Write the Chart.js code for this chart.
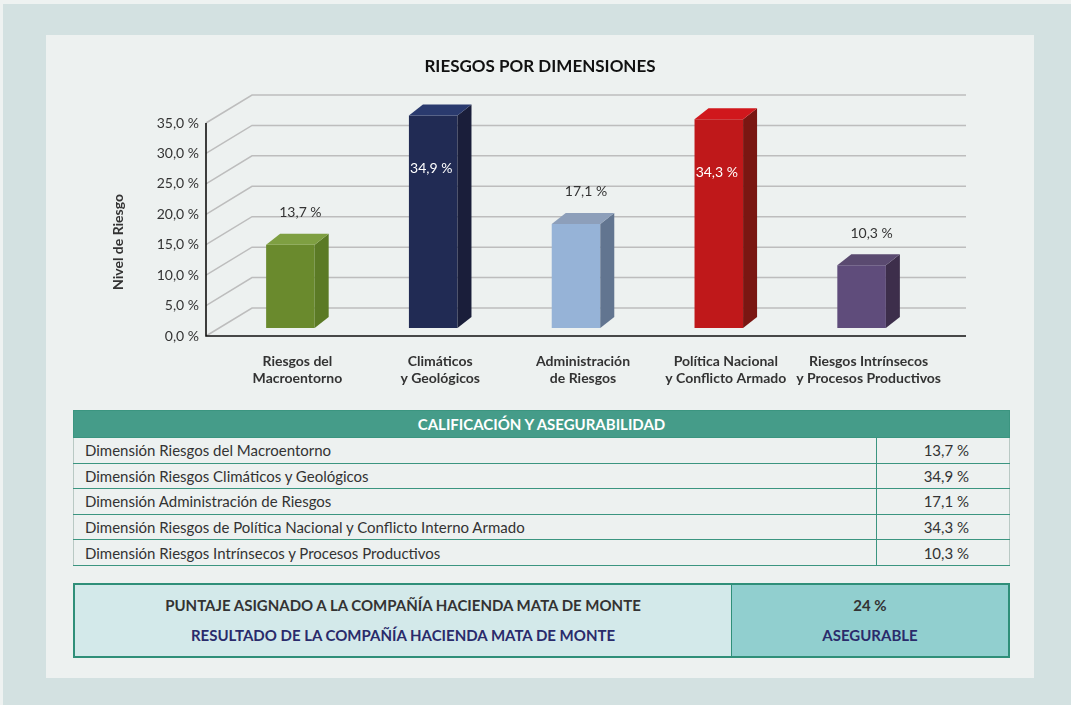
<!DOCTYPE html>
<html>
<head>
<meta charset="utf-8">
<script src="https://cdn.jsdelivr.net/npm/chart.js@4.4.1/dist/chart.umd.min.js"></script>
<style>
  html, body { margin: 0; padding: 0; }
  body { width: 1071px; height: 705px; background: #eef2f1; position: relative; overflow: hidden; font-family: Lato, "Open Sans", sans-serif; }
  #frame { position: absolute; left: 3px; top: 4px; width: 1068px; height: 701px; background: #d3e1e1; }
  #panel { position: absolute; left: 46px; top: 35px; width: 988px; height: 643px; background: #edf1f0; }
  #chartWrap { position: absolute; left: 0; top: 0; width: 988px; height: 365px; }
  #tbl { position: absolute; left: 27px; top: 375px; width: 937px; border-collapse: collapse; font-size: 15px; color: #333; }
  #tbl th { background: #459c89; color: #fff; font-weight: bold; height: 26px; padding: 0; border: 1.5px solid #3b9580; font-size: 15px; }
  #tbl td { height: 24.6px; padding: 0 11px; border-top: 1.5px solid #3b9580; border-bottom: 1.5px solid #3b9580; }
  #tbl td.lbl { border-left: 1px solid #b9c9c4; border-right: 1.5px solid #3b9580; }
  #tbl td.val { text-align: right; padding-right: 40px; width: 81px; border-right: 1px solid #b9c9c4; }
  #res { position: absolute; left: 27px; top: 548px; width: 933px; height: 71px; border: 2px solid #2f8f79; display: flex; font-weight: bold; font-size: 15px; }
  #res .l { width: 656px; background: #d3e9ea; border-right: 1.5px solid #2f8f79; text-align: center; }
  #res .r { flex: 1; background: #91cfcf; text-align: center; }
  #res .a { color: #333; margin-top: 11px; height: 19px; }
  #res .b { color: #2a2b6b; margin-top: 11px; height: 19px; }
</style>
</head>
<body>
<div id="frame"></div>
<div id="panel">
  <div id="chartWrap"><canvas id="c" width="988" height="365"></canvas></div>
  <table id="tbl">
    <thead><tr><th colspan="2">CALIFICACIÓN Y ASEGURABILIDAD</th></tr></thead>
    <tbody id="tbody"></tbody>
  </table>
  <div id="res">
    <div class="l"><div class="a" id="resA"></div><div class="b" id="resB"></div></div>
    <div class="r"><div class="a" id="resC"></div><div class="b" id="resD"></div></div>
  </div>
</div>
<script>
// ---- data ----
const categories = [
  ["Riesgos del", "Macroentorno"],
  ["Climáticos", "y Geológicos"],
  ["Administración", "de Riesgos"],
  ["Política Nacional", "y Conflicto Armado"],
  ["Riesgos Intrínsecos", "y Procesos Productivos"]
];
const values = [13.7, 34.9, 17.1, 34.3, 10.3];
const tableLabels = [
  "Dimensión Riesgos del Macroentorno",
  "Dimensión Riesgos Climáticos y Geológicos",
  "Dimensión Administración de Riesgos",
  "Dimensión Riesgos de Política Nacional y Conflicto Interno Armado",
  "Dimensión Riesgos Intrínsecos y Procesos Productivos"
];
const yTicks = [0, 5, 10, 15, 20, 25, 30, 35];
const frontColors = ["#6a8a2d", "#212b54", "#96b3d7", "#bf181a", "#5f4c7b"];
const sideColors  = ["#5b7a25", "#1a1e3a", "#627590", "#7a1612", "#3d2e4b"];
const topColors   = ["#7e9f41", "#2a3a6e", "#8d9fba", "#d0171c", "#5a4a70"];
const insideLabel = [false, true, false, true, false];
const chartTitle = "RIESGOS POR DIMENSIONES";
const yTitle = "Nivel de Riesgo";
const scoreLabel = "PUNTAJE ASIGNADO A LA COMPAÑÍA HACIENDA MATA DE MONTE";
const resultLabel = "RESULTADO DE LA COMPAÑÍA HACIENDA MATA DE MONTE";
const scoreValue = 24;
const resultValue = "ASEGURABLE";

const fmt1 = v => v.toFixed(1).replace('.', ',') + ' %';

// ---- table ----
const tb = document.getElementById('tbody');
tableLabels.forEach((t, i) => {
  const tr = document.createElement('tr');
  const a = document.createElement('td'); a.className = 'lbl'; a.textContent = t;
  const b = document.createElement('td'); b.className = 'val'; b.textContent = fmt1(values[i]);
  tr.appendChild(a); tr.appendChild(b); tb.appendChild(tr);
});
document.getElementById('resA').textContent = scoreLabel;
document.getElementById('resB').textContent = resultLabel;
document.getElementById('resC').textContent = scoreValue + ' %';
document.getElementById('resD').textContent = resultValue;

// ---- 3D geometry (pixels) ----
const FRONT = { dx: -13, dy: 8 };   // bar plane -> front floor edge
const BACK  = { dx: 33, dy: -20 };  // bar plane -> back wall
const DEPTH = { dx: 14, dy: -11 };  // bar box depth
const FONT = 'Lato, "Open Sans", sans-serif';

const plugin3d = {
  id: 'plugin3d',
  beforeDatasetsDraw(chart) {
    const ctx = chart.ctx, ca = chart.chartArea, ys = chart.scales.y;
    ctx.save();
    ctx.lineWidth = 1.5;
    ctx.strokeStyle = '#bdbdbd';
    const fx = ca.left + FRONT.dx;
    yTicks.forEach(v => {
      const py = ys.getPixelForValue(v);
      const fy = py + FRONT.dy;
      const by = py + BACK.dy;
      const bx = ca.left + BACK.dx;
      ctx.beginPath();
      ctx.moveTo(fx, fy);
      ctx.lineTo(bx, by);
      ctx.lineTo(ca.right + BACK.dx, by);
      ctx.stroke();
    });
    ctx.strokeStyle = '#111';
    ctx.lineWidth = 1.6;
    const y0 = ys.getPixelForValue(0) + FRONT.dy;
    const yTop = ys.getPixelForValue(yTicks[yTicks.length - 1]) + FRONT.dy;
    ctx.beginPath();
    ctx.moveTo(fx, yTop); ctx.lineTo(fx, y0);
    ctx.lineTo(ca.right + BACK.dx, y0);
    ctx.stroke();
    ctx.restore();
  },
  afterDatasetsDraw(chart) {
    const ctx = chart.ctx;
    const meta = chart.getDatasetMeta(0);
    ctx.save();
    meta.data.forEach((bar, i) => {
      const p = bar.getProps(['x', 'y', 'base', 'width'], true);
      const l = p.x - p.width / 2, r = p.x + p.width / 2;
      const t = p.y, b = p.base;
      ctx.fillStyle = sideColors[i];
      ctx.beginPath();
      ctx.moveTo(r, t); ctx.lineTo(r + DEPTH.dx, t + DEPTH.dy);
      ctx.lineTo(r + DEPTH.dx, b + DEPTH.dy); ctx.lineTo(r, b);
      ctx.closePath(); ctx.fill();
      ctx.fillStyle = topColors[i];
      ctx.beginPath();
      ctx.moveTo(l, t); ctx.lineTo(l + DEPTH.dx, t + DEPTH.dy);
      ctx.lineTo(r + DEPTH.dx, t + DEPTH.dy); ctx.lineTo(r, t);
      ctx.closePath(); ctx.fill();
      ctx.font = '14px ' + FONT;
      ctx.textAlign = 'center';
      ctx.textBaseline = 'middle';
      if (insideLabel[i]) {
        ctx.fillStyle = '#ffffff';
        ctx.fillText(fmt1(values[i]), p.x - 2, t + 53);
      } else {
        ctx.fillStyle = '#333333';
        ctx.fillText(fmt1(values[i]), p.x + 10, t - 32);
      }
    });
    ctx.restore();
  },
  afterDraw(chart) {
    const ctx = chart.ctx;
    ctx.save();
    ctx.font = 'bold 17px ' + FONT;
    ctx.fillStyle = '#111';
    ctx.textAlign = 'center';
    ctx.textBaseline = 'middle';
    ctx.fillText(chartTitle, chart.width / 2, 32);
    ctx.translate(72, 207);
    ctx.rotate(-Math.PI / 2);
    ctx.font = 'bold 14px ' + FONT;
    ctx.fillStyle = '#333';
    ctx.fillText(yTitle, 0, 0);
    ctx.restore();
  }
};

new Chart(document.getElementById('c'), {
  type: 'bar',
  data: {
    labels: categories,
    datasets: [{
      data: values,
      backgroundColor: frontColors,
      borderWidth: 0,
      categoryPercentage: 1,
      barPercentage: 0.34,
      clip: false
    }]
  },
  options: {
    responsive: false,
    animation: false,
    layout: { padding: { left: 0, right: 101, top: 80, bottom: 0 } },
    plugins: {
      legend: { display: false },
      tooltip: { enabled: false },
      title: { display: false }
    },
    scales: {
      x: {
        grid: { display: false },
        border: { display: false },
        ticks: {
          color: '#333',
          font: { family: FONT, size: 14, weight: 'bold' },
          padding: 17,
          labelOffset: 7,
          maxRotation: 0,
          autoSkip: false
        },
        afterFit(s) { s.height = 72; }
      },
      y: {
        min: 0, max: 35,
        grid: { display: false, drawTicks: false },
        border: { display: false },
        afterBuildTicks(s) { s.ticks = yTicks.map(v => ({ value: v })); },
        ticks: {
          color: '#333',
          font: { family: FONT, size: 14 },
          padding: 20,
          labelOffset: 8,
          callback: v => fmt1(v)
        },
        afterFit(s) { s.width = 173; }
      }
    }
  },
  plugins: [plugin3d]
});
</script>
</body>
</html>
